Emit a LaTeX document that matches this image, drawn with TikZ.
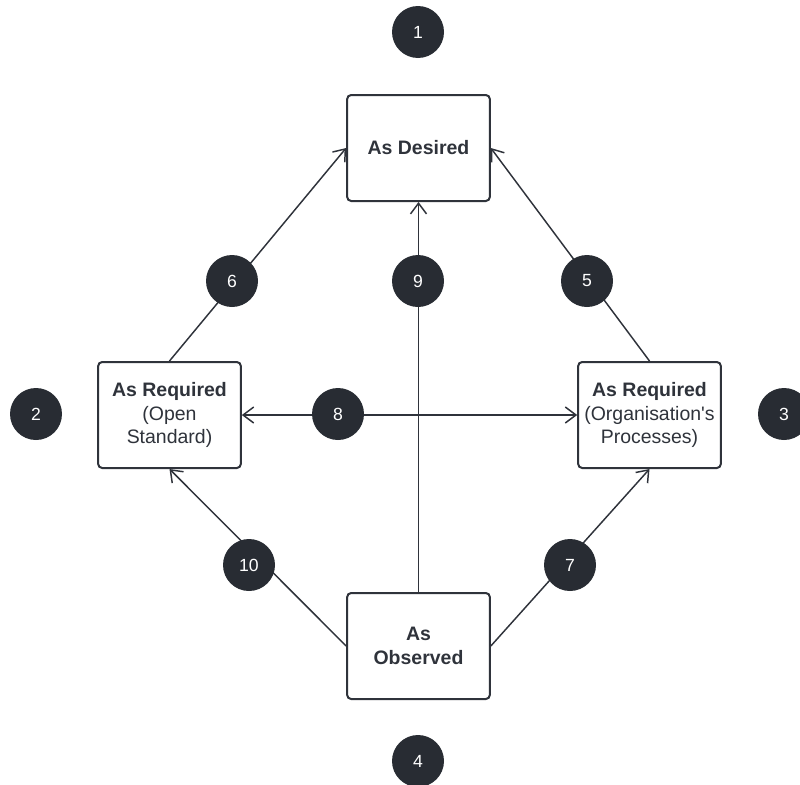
\documentclass[tikz,border=0pt]{standalone}
\usepackage{fontspec}
\setmainfont{Liberation Sans}
\usetikzlibrary{arrows.meta}
\definecolor{ink}{HTML}{2F333B}
\definecolor{dot}{HTML}{282C33}
\begin{document}
\begin{tikzpicture}[x=0.75pt,y=-0.75pt]
\tikzset{boite/.style={draw=ink, line width=1.5pt, rounded corners=3pt, fill=white,
    minimum width=107pt, minimum height=79.5pt, align=center, text=ink, font=\fontsize{14.6}{17.8}\selectfont},
  pastille/.style={circle, fill=dot, text=white, minimum size=39pt, inner sep=0pt, font=\fontsize{13.2}{15}\selectfont},
  lien/.style={draw=ink, line width=1.1pt, -{Straight Barb[length=8pt,width=12pt]}}}
\useasboundingbox (0,0) rectangle (800,785);
\node[boite] (D) at (418.5,148) {\textbf{As Desired}};
\node[boite] (RO) at (169.5,415) {\textbf{As Required}\\(Open\\Standard)};
\node[boite] (RP) at (649.5,415) {\textbf{As Required}\\(Organisation\textquotesingle s\\Processes)};
\node[boite] (O) at (418.5,646) {\textbf{As}\\\textbf{Observed}};
\draw[lien] (RO.north) -- (D.west);
\draw[lien] (RP.north) -- (D.east);
\draw[lien] (O.west) -- (RO.south);
\draw[lien] (O.east) -- (RP.south);
\draw[lien] (O.north) -- (D.south);
\draw[lien, {Straight Barb[length=8pt,width=12pt]}-{Straight Barb[length=8pt,width=12pt]}] (RO.east) -- (RP.west);
\node[pastille] (P1) at (418,32) {1};
\node[pastille] (P2) at (36,414) {2};
\node[pastille] (P3) at (784,414) {3};
\node[pastille] (P4) at (418,761) {4};
\node[pastille] (P5) at (587,281) {5};
\node[pastille] (P6) at (232,281) {6};
\node[pastille] (P7) at (570,565) {7};
\node[pastille] (P8) at (338,414) {8};
\node[pastille] (P9) at (418,281) {9};
\node[pastille] (P10) at (249,565) {10};
\end{tikzpicture}
\end{document}
